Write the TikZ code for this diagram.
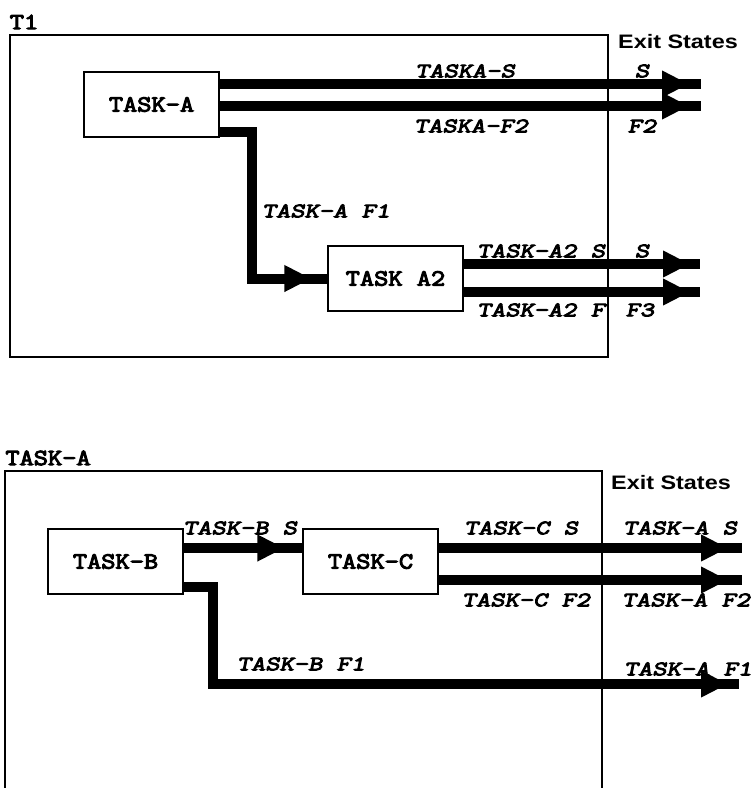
\documentclass[tikz,border=0pt]{standalone}
\usepackage{fontspec}
\usetikzlibrary{arrows.meta,decorations.markings}
\newfontfamily\courb[FakeStretch=1.2,FakeBold=4.5]{Latin Modern Mono}
\newfontfamily\courbi[FakeStretch=1.35,FakeBold=4.5,FakeSlant=0.2]{Latin Modern Mono}
\newfontfamily\exitfont[FakeStretch=1.2]{Liberation Sans}
\begin{document}
\begin{tikzpicture}[x=1pt,y=-1pt,
  frame/.style={draw, line width=1.3pt},
  taskbox/.style={draw, line width=1.3pt, minimum width=135pt, minimum height=65pt, inner sep=0pt,
    font=\courb\fontsize{23}{23}\selectfont},
  ftitle/.style={inner sep=0pt, font=\courb\fontsize{23}{23}\selectfont},
  lab/.style={inner sep=0pt, font=\courbi\fontsize{20.5}{20.5}\selectfont},
  exit/.style={inner sep=0pt, font=\exitfont\bfseries\fontsize{19.5}{19.5}\selectfont},
  flow/.style={line width=10pt, line join=miter},
  midarrow/.style={postaction={decorate}, decoration={markings,
    mark=at position #1 with {\arrow{Triangle[length=27pt,width=25pt]}}}}]
\useasboundingbox (0,0) rectangle (754,788);

% ---------- top diagram ----------
\draw[frame] (10,35) rectangle (608,357);
\node[ftitle] (t1) at (24,22) {T1};
\node[exit] (ex1) at (678,42) {Exit States};
\node[taskbox] (ta) at (151.5,104.5) {TASK-A};
\node[taskbox] (ta2) at (395.5,278.5) {TASK A2};
\coordinate (e1) at (701,84);
\coordinate (e2) at (701,106);
\coordinate (e3) at (700,264);
\coordinate (e4) at (700,292);
\coordinate (k1) at (252,132);
\draw[flow, midarrow=-12pt] (ta.east |- e1) -- (e1);
\draw[flow, midarrow=-12pt] (ta.east |- e2) -- (e2);
\draw[flow, midarrow=-16pt] (ta.east |- k1) -| (k1 |- ta2.west) -- (ta2.west);
\draw[flow, midarrow=-10pt] (ta2.east |- e3) -- (e3);
\draw[flow, midarrow=-10pt] (ta2.east |- e4) -- (e4);
\node[lab] at (465,71) {TASKA-S};
\node[lab] at (642,71) {S};
\node[lab] at (471,126) {TASKA-F2};
\node[lab] at (642,126) {F2};
\node[lab] at (326,211) {TASK-A F1};
\node[lab] at (541,251) {TASK-A2 S};
\node[lab] at (642,251) {S};
\node[lab] at (541,310) {TASK-A2 F};
\node[lab] at (640,310) {F3};

% ---------- bottom diagram ----------
\draw[frame] (5,788) -- (5,471) -- (602,471) -- (602,788);
\node[ftitle] (t2) at (48,458) {TASK-A};
\node[exit] (ex2) at (671,483) {Exit States};
\node[taskbox] (tb) at (115.5,561.5) {TASK-B};
\node[taskbox] (tc) at (370.5,561.5) {TASK-C};
\coordinate (b1) at (0,548);
\coordinate (e5) at (742,548);
\coordinate (e6) at (742,580);
\coordinate (k2) at (213,587);
\coordinate (e7) at (739,684);
\draw[flow, midarrow=-18pt] (tb.east |- b1) -- (tc.west |- b1);
\draw[flow, midarrow=-14pt] (tc.east |- e5) -- (e5);
\draw[flow, midarrow=-14pt] (tc.east |- e6) -- (e6);
\draw[flow, midarrow=-11pt] (tb.east |- k2) -| (k2 |- e7) -- (e7);
\node[lab] at (240,528) {TASK-B S};
\node[lab] at (521,528) {TASK-C S};
\node[lab] at (680,528) {TASK-A S};
\node[lab] at (526,600) {TASK-C F2};
\node[lab] at (686,600) {TASK-A F2};
\node[lab] at (301,664) {TASK-B F1};
\node[lab] at (688,669) {TASK-A F1};
\end{tikzpicture}
\end{document}
